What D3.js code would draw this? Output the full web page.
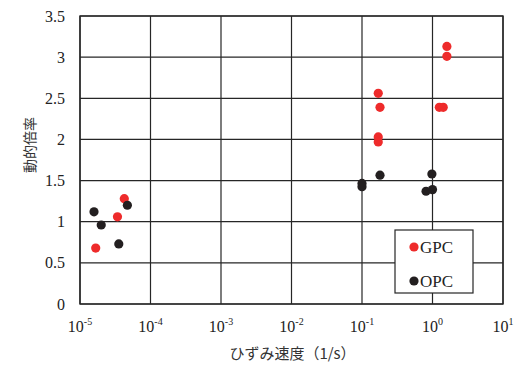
<!DOCTYPE html>
<html>
<head>
<meta charset="utf-8">
<script src="https://cdn.jsdelivr.net/npm/d3@7"></script>
<style>
  body { margin: 0; background: #fff; }
  svg { display: block; }
  .num { font-family: "Liberation Serif", "DejaVu Serif", serif; }
  .jp { font-family: "Noto Sans CJK JP", sans-serif; }
</style>
</head>
<body>
<script>
// データ
const gpcRate = [4.25e-5, 3.4e-5, 1.67e-5, 1.6, 1.6, 0.17, 0.18, 1.25, 1.42, 0.17, 0.17];
const gpcFactor = [1.28, 1.06, 0.68, 3.13, 3.01, 2.56, 2.39, 2.39, 2.39, 2.03, 1.97];
const opcRate = [4.7e-5, 1.58e-5, 2.0e-5, 3.55e-5, 0.18, 0.1, 0.1, 0.98, 1.0, 0.81];
const opcFactor = [1.20, 1.12, 0.96, 0.73, 1.565, 1.465, 1.425, 1.58, 1.39, 1.37];
const xExponents = [-5, -4, -3, -2, -1, 0, 1];
const yTicks = [0, 0.5, 1, 1.5, 2, 2.5, 3, 3.5];

const series = [
  {name: "GPC", color: "#ee2b2b", x: gpcRate, y: gpcFactor},
  {name: "OPC", color: "#231f20", x: opcRate, y: opcFactor},
];

const width = 524, height = 365;
const margin = {top: 16, right: 21, bottom: 61, left: 80};
const innerW = width - margin.left - margin.right;
const innerH = height - margin.top - margin.bottom;

const x = d3.scaleLog().domain([1e-5, 1e1]).range([0, innerW]);
const y = d3.scaleLinear().domain([0, 3.5]).range([innerH, 0]);

const svg = d3.select("body").append("svg")
  .attr("width", width).attr("height", height);

const g = svg.append("g")
  .attr("transform", `translate(${margin.left},${margin.top})`);

// グリッド
g.append("g").selectAll("line")
  .data(xExponents)
  .join("line")
  .attr("x1", d => x(Math.pow(10, d))).attr("x2", d => x(Math.pow(10, d)))
  .attr("y1", 0).attr("y2", innerH)
  .attr("stroke", "#262626").attr("stroke-width", 1.2);

g.append("g").selectAll("line")
  .data(yTicks)
  .join("line")
  .attr("x1", 0).attr("x2", innerW)
  .attr("y1", d => y(d)).attr("y2", d => y(d))
  .attr("stroke", "#262626").attr("stroke-width", 1.2);

// 枠
g.append("rect")
  .attr("width", innerW).attr("height", innerH)
  .attr("fill", "none").attr("stroke", "#262626").attr("stroke-width", 1.4);

// Y軸目盛ラベル
g.append("g").selectAll("text")
  .data(yTicks)
  .join("text")
  .attr("class", "num")
  .attr("x", -15).attr("y", d => y(d))
  .attr("dy", "0.35em")
  .attr("text-anchor", "end")
  .attr("font-size", 16)
  .attr("fill", "#222")
  .text(d => d);

// X軸目盛ラベル (10^n)
const xl = g.append("g").selectAll("text")
  .data(xExponents)
  .join("text")
  .attr("class", "num")
  .attr("x", d => x(Math.pow(10, d)))
  .attr("y", innerH + 28)
  .attr("text-anchor", "middle")
  .attr("font-size", 16)
  .attr("fill", "#222");
xl.append("tspan").text("10");
xl.append("tspan").attr("dy", -7).attr("font-size", 10).text(d => d);

// 軸タイトル
g.append("text")
  .attr("class", "jp")
  .attr("x", innerW / 2 + 1).attr("y", innerH + 55)
  .attr("text-anchor", "middle")
  .attr("font-size", 15)
  .attr("fill", "#333")
  .text("ひずみ速度（1/s）");

g.append("text")
  .attr("class", "jp")
  .attr("transform", `translate(${30 - margin.left},${145 - margin.top}) rotate(-90)`)
  .attr("text-anchor", "middle")
  .attr("dy", "0.35em")
  .attr("font-size", 14)
  .attr("fill", "#333")
  .text("動的倍率");

// 点
series.forEach(s => {
  g.append("g").selectAll("circle")
    .data(s.x.map((v, i) => [v, s.y[i]]))
    .join("circle")
    .attr("cx", d => x(d[0]))
    .attr("cy", d => y(d[1]))
    .attr("r", 4.6)
    .attr("fill", s.color);
});

// 凡例
const lg = svg.append("g").attr("transform", "translate(395,230)");
lg.append("rect")
  .attr("width", 78).attr("height", 63)
  .attr("fill", "#fff").attr("stroke", "#262626").attr("stroke-width", 1.2);
series.forEach((s, i) => {
  const row = lg.append("g").attr("transform", `translate(0,${17 + i * 34})`);
  row.append("circle").attr("cx", 19).attr("cy", 0).attr("r", 4.6).attr("fill", s.color);
  row.append("text")
    .attr("class", "num")
    .attr("x", 25).attr("y", 0).attr("dy", "0.35em")
    .attr("font-size", 17)
    .attr("fill", "#222")
    .text(s.name);
});
</script>
</body>
</html>
